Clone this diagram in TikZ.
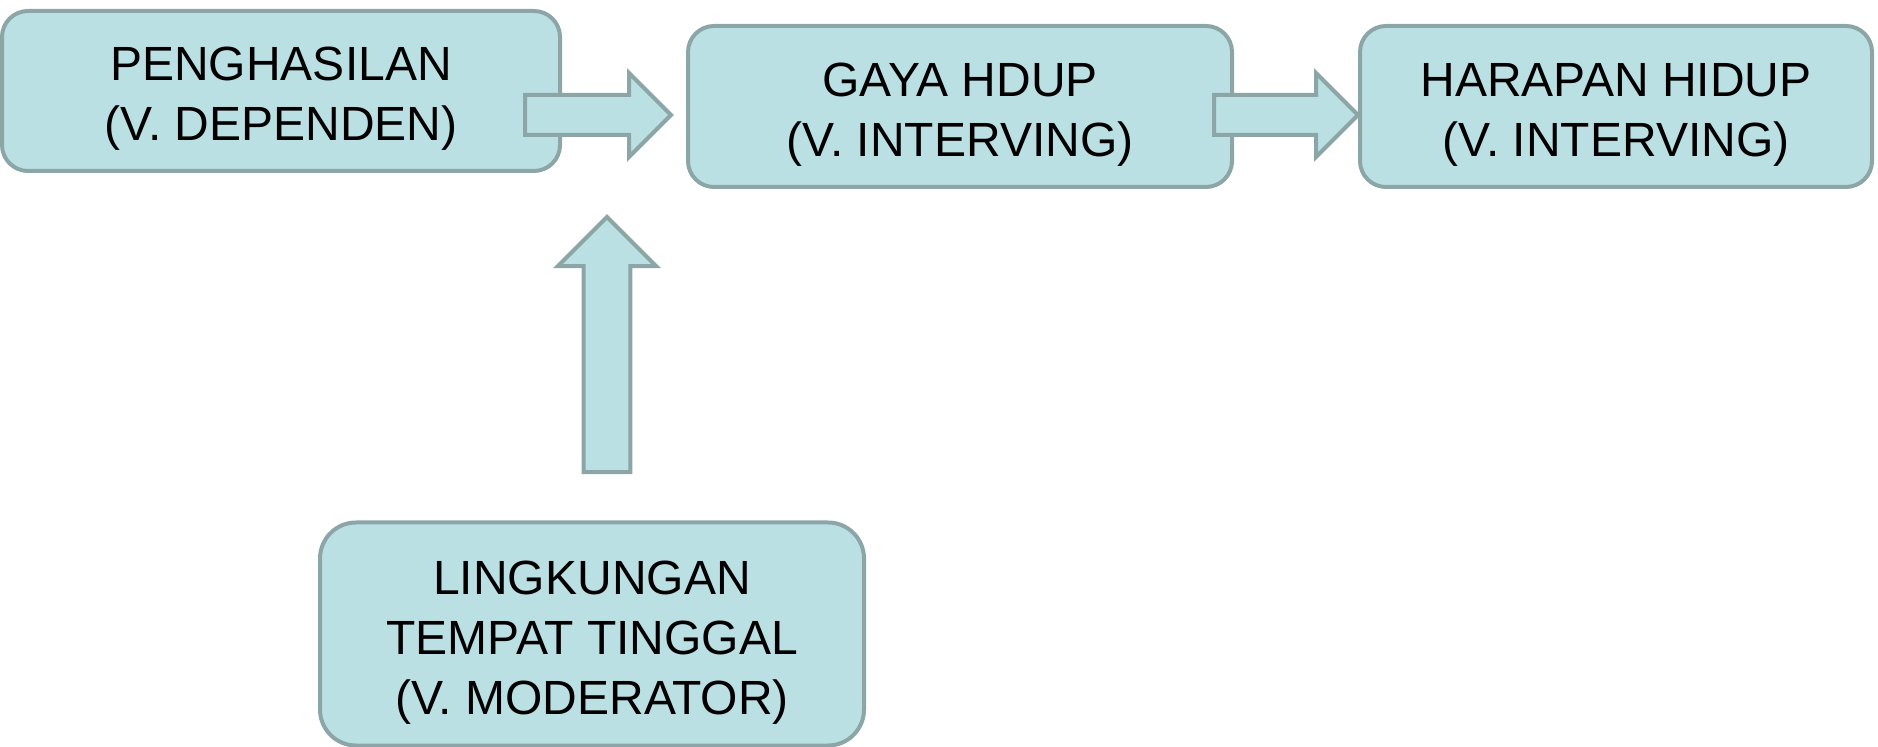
\documentclass[tikz,border=0pt]{standalone}
\usepackage{fontspec}
\setmainfont{Liberation Sans}
\usetikzlibrary{calc}
\definecolor{boxblue}{HTML}{BBE0E3}
\definecolor{edgegray}{HTML}{8CA6A8}
\newcommand{\boxlines}[1]{\raisebox{-4pt}[\height][\depth]{\begin{tabular}{@{}c@{}}#1\end{tabular}}}
\begin{document}
\begin{tikzpicture}[
			x=0.5pt, y=0.5pt,
			box/.style={rectangle, draw=edgegray, fill=boxblue, line width=2pt,
					rounded corners=13pt, align=center, inner sep=0pt,
					font=\fontsize{24}{30}\selectfont},
			blockarrow/.style={draw=edgegray, fill=boxblue, line width=2pt, line join=miter}
		]
		\useasboundingbox (0,0) rectangle (1878,-747);

		\node[box, minimum width=279pt, minimum height=80pt] (penghasilan) at (281,-91) {\boxlines{PENGHASILAN\\(V. DEPENDEN)}};
		\node[box, minimum width=272pt, minimum height=80.5pt] (gaya) at (960,-106.5) {\boxlines{GAYA HDUP\\(V. INTERVING)}};
		\node[box, minimum width=256pt, minimum height=80.5pt] (harapan) at (1616,-106.5) {\boxlines{HARAPAN HIDUP\\(V. INTERVING)}};
		\node[box, minimum width=272pt, minimum height=111.5pt, rounded corners=18pt] (lingkungan) at (592,-634) {\boxlines{LINGKUNGAN\\TEMPAT TINGGAL\\(V. MODERATOR)}};

		\coordinate (tip1) at ($(gaya.west)+(-15,-8.5)$);
		\coordinate (tip2) at ($(harapan.west)+(0,-8.5)$);
		\coordinate (tip3) at ($(lingkungan.north)+(15,303.5)$);

		\foreach \t/\a/\l/\s in {tip1/0/146/1, tip2/0/144/1, tip3/90/218/1.17} {
				\begin{scope}[shift={(\t)}, rotate=\a, scale=\s]
					\draw[blockarrow] (0,0) -- (-42,42) -- (-42,20) -- (-\l,20) -- (-\l,-20) -- (-42,-20) -- (-42,-42) -- cycle;
				\end{scope}
			}
	\end{tikzpicture}
\end{document}
